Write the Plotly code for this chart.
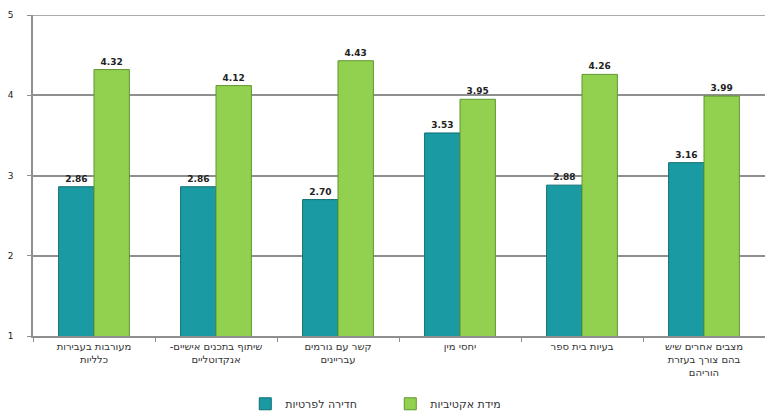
import plotly.graph_objects as go

RLM = "\u200f"

categories = [
    "מעורבות בעבירות<br>כלליות",
    "שיתוף בתכנים אישיים-" + RLM + "<br>אנקדוטליים",
    "קשר עם גורמים<br>עבריינים",
    "יחסי מין",
    "בעיות בית ספר",
    "מצבים אחרים שיש<br>בהם צורך בעזרת<br>הוריהם",
]
privacy_values = [2.86, 2.86, 2.70, 3.53, 2.88, 3.16]
activity_values = [4.32, 4.12, 4.43, 3.95, 4.26, 3.99]
y_ticks = [1, 2, 3, 4, 5]

series_names = ["חדירה לפרטיות", "מידת אקטיביות"]
teal = "#1a9aa3"
teal_edge = "#0f6e74"
green = "#92d050"
green_edge = "#5f9630"
grid = "#8f8f8f"
FONT = "DejaVu Sans, Liberation Sans, Arial, sans-serif"

label_font = dict(family=FONT, size=9, color="#222")

fig = go.Figure()
fig.add_trace(go.Bar(
    x=categories, y=privacy_values, name=series_names[0],
    marker=dict(color=teal, line=dict(color=teal_edge, width=1)),
    texttemplate="<b>%{y:.2f}</b>", textposition="outside",
    textfont=label_font, cliponaxis=False,
))
fig.add_trace(go.Bar(
    x=categories, y=activity_values, name=series_names[1],
    marker=dict(color=green, line=dict(color=green_edge, width=1)),
    texttemplate="<b>%{y:.2f}</b>", textposition="outside",
    textfont=label_font, cliponaxis=False,
))

# top gridline at the upper bound of the value axis
fig.add_shape(type="line", xref="paper", yref="y", x0=0, x1=1, y0=5, y1=5,
              line=dict(color=grid, width=1.5), layer="below")

fig.update_layout(
    width=765, height=415,
    margin=dict(l=33, r=0, t=15, b=79, autoexpand=False),
    paper_bgcolor="white", plot_bgcolor="white",
    barmode="group", bargap=0.42, bargroupgap=0.0,
    font=dict(family=FONT, size=10, color="#333"),
    showlegend=True,
    legend=dict(
        orientation="h", x=0.29, xanchor="left",
        yref="container", y=0.027, yanchor="middle",
        font=dict(family=FONT, size=11, color="#333"), traceorder="normal",
        entrywidth=100, entrywidthmode="pixels",
    ),
)
fig.update_yaxes(
    range=[1, 5], tickvals=y_ticks,
    showgrid=True, gridcolor=grid, gridwidth=1.5,
    showline=True, linecolor=grid, linewidth=1.5,
    ticks="outside", ticklen=4, tickcolor=grid,
    ticklabelstandoff=12,
    tickprefix="<b>", ticksuffix="</b>",
    tickfont=dict(size=9, color="#222", family=FONT),
    zeroline=False,
)
fig.update_xaxes(
    showline=True, linecolor=grid, linewidth=1.5,
    ticks="outside", tickson="boundaries", ticklen=4, tickcolor=grid,
    tickfont=dict(size=10, color="#333", family=FONT),
    tickangle=0,
)

fig.write_html("out.html")
